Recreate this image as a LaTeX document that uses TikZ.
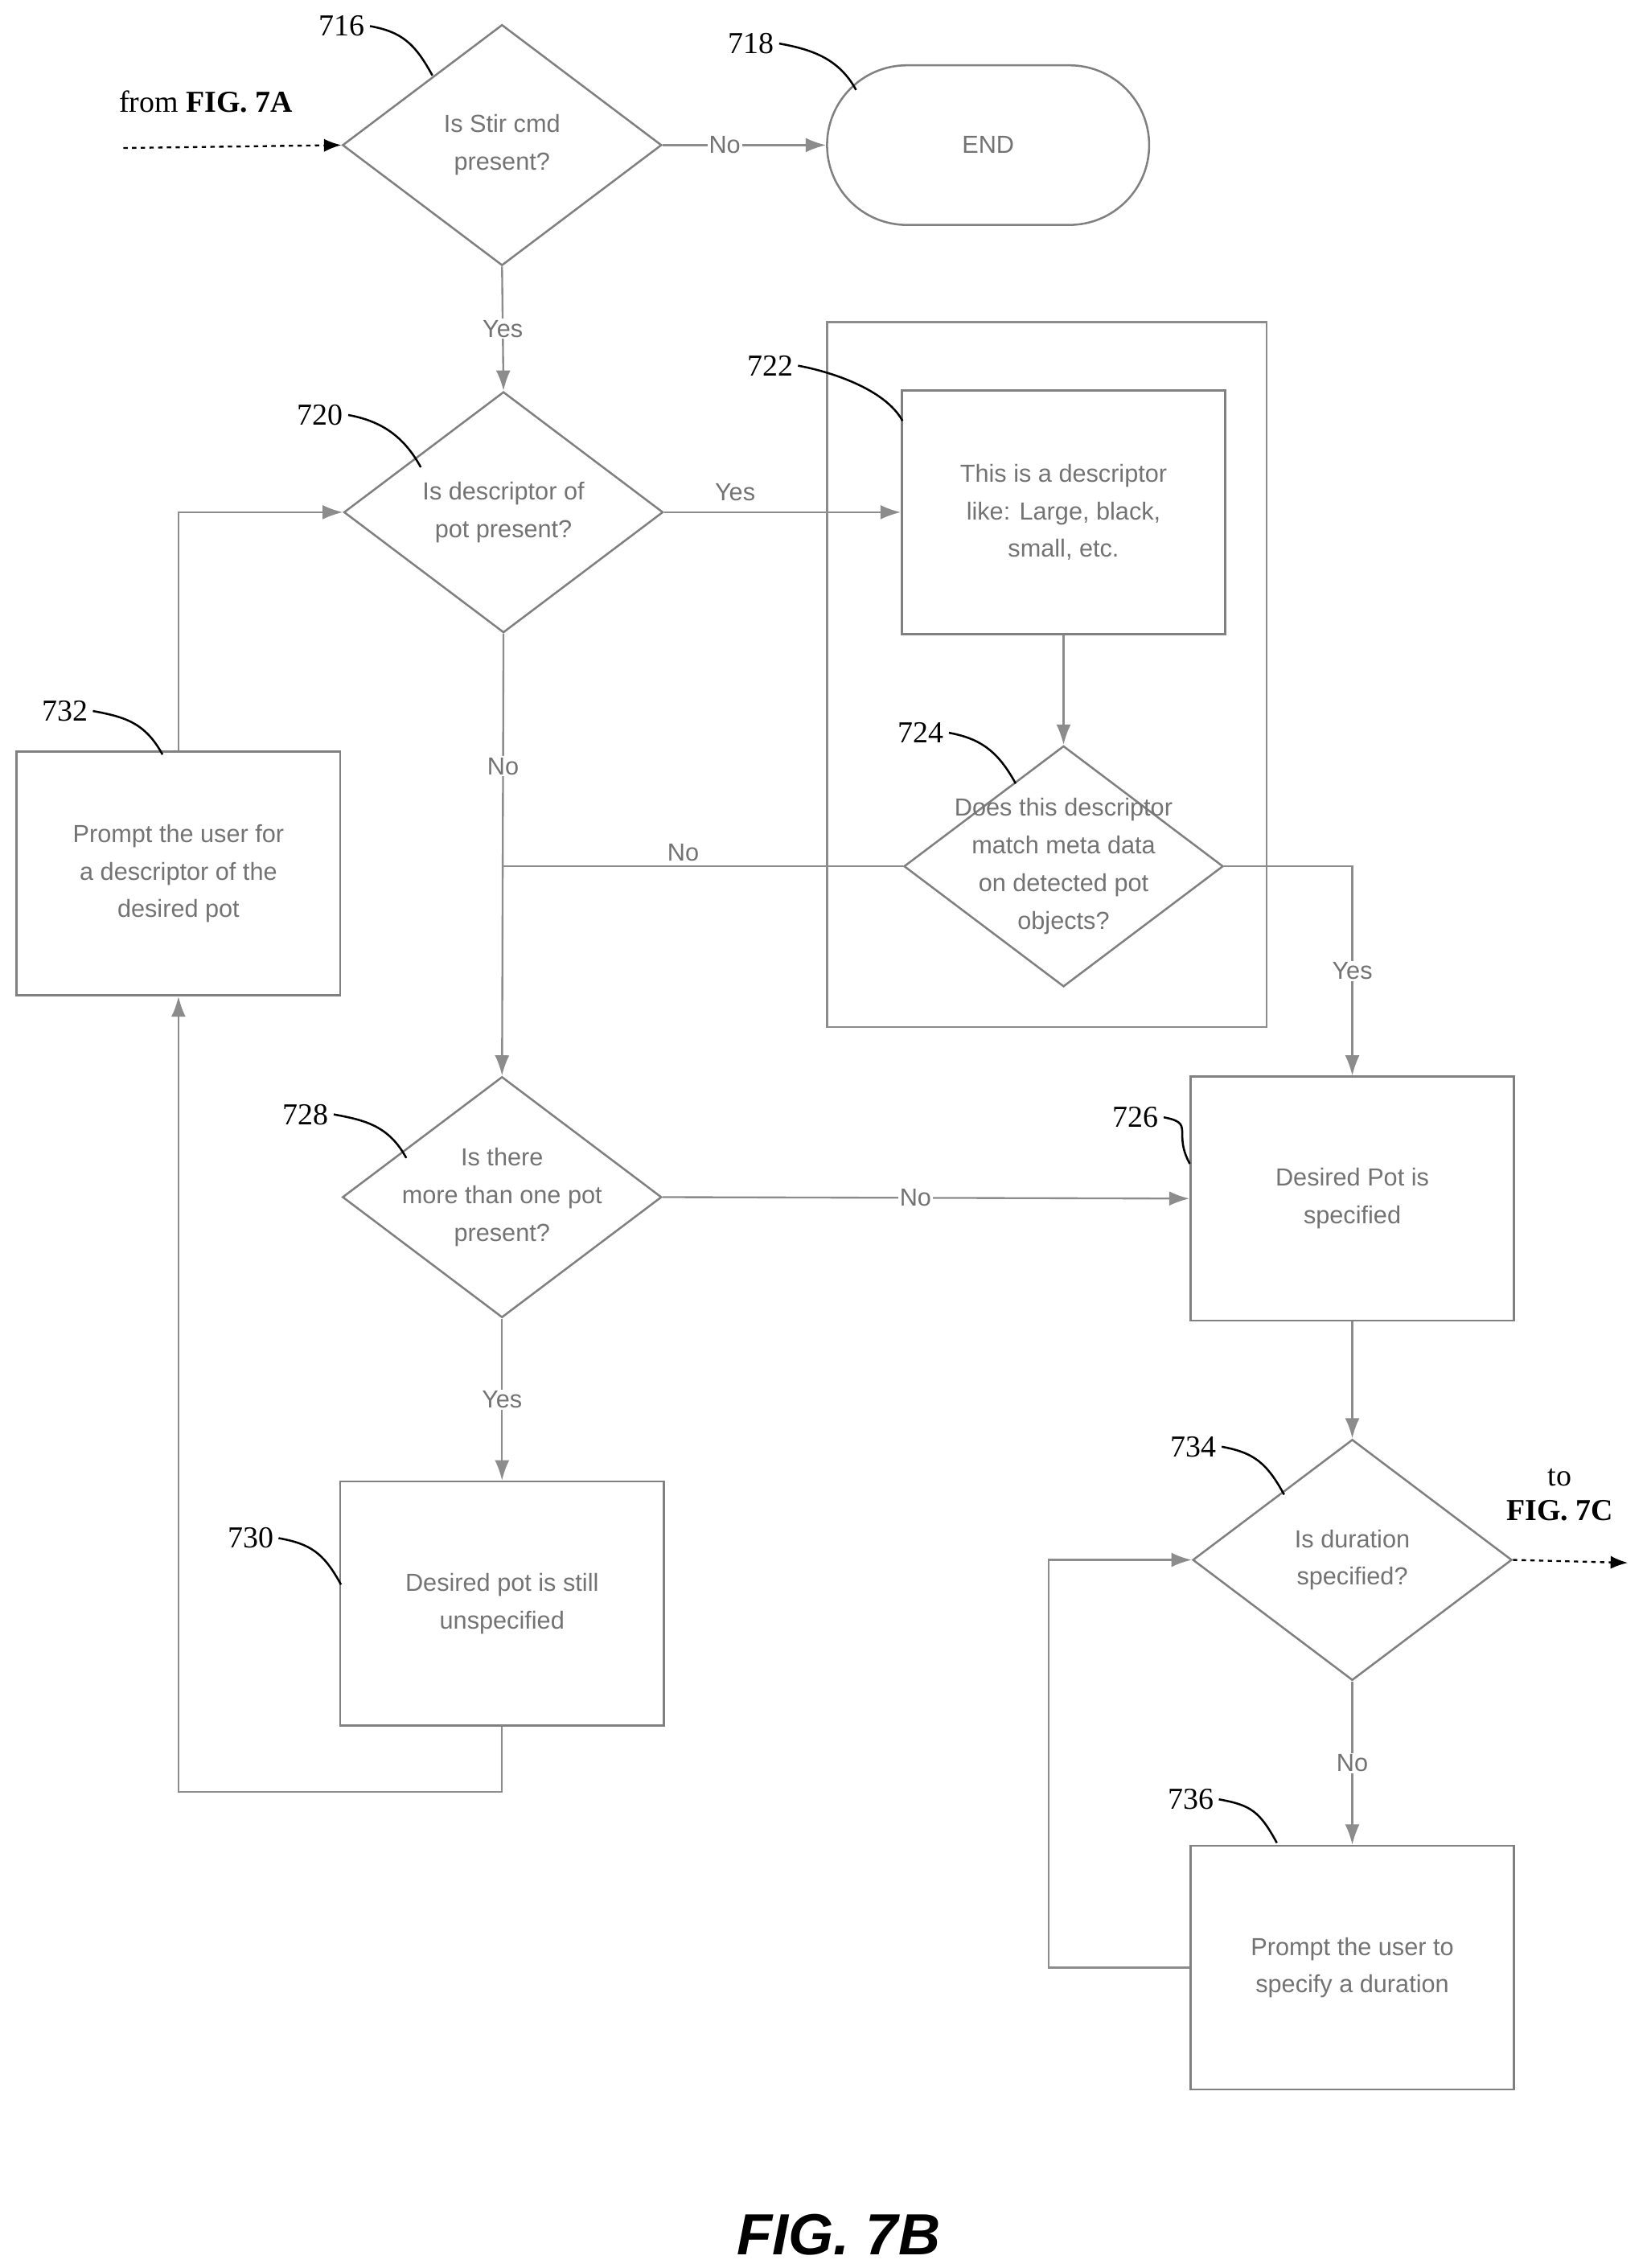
\documentclass[tikz,border=0pt]{standalone}
\usepackage{fontspec}
\setmainfont{Liberation Serif}
\setsansfont{Liberation Sans}
\usetikzlibrary{shapes.geometric,arrows.meta,positioning}
\tikzset{
  flow/.style={draw=black!45, line width=1.3pt},
  arr/.style={flow, -{Latex[length=14pt,width=10pt]}},
  dia/.style={draw=black!50, line width=1.4pt, diamond, minimum width=220pt, minimum height=166pt, inner sep=0pt},
  box/.style={draw=black!50, line width=1.4pt, minimum width=223pt, minimum height=168pt, inner sep=0pt},
  txt/.style={font=\sffamily\fontsize{17}{26}\selectfont, text=black!55, align=center},
  lbl/.style={font=\sffamily\fontsize{17}{20}\selectfont, text=black!55, fill=white, inner sep=1pt},
  num/.style={font=\fontsize{21}{24}\selectfont},
  lead/.style={draw=black, line width=1.4pt}
}
\newcommand{\refnum}[4]{%
  \node[num, anchor=east] (n#1) at (#2,#3) {#1};
  \draw[lead] (n#1.east) .. controls +(22,4) and +(-12,-22) .. (#4);
}
\begin{document}
\begin{tikzpicture}[x=1pt,y=-1pt]
\useasboundingbox (0,0) rectangle (1135,1563);

% outer frame around 722/724
\draw[draw=black!45, line width=1.2pt] (570,222) rectangle (873,708);

% shapes
\node[dia] (d716) at (346,100) {};
\node[txt] at (d716) {Is Stir cmd\\present?};
\node[draw=black!50, line width=1.4pt, rounded corners=55pt, minimum width=222pt, minimum height=110pt] (n718) at (681,100) {};
\node[txt] at (n718) {END};
\node[dia] (d720) at (347,353) {};
\node[txt] at (d720) {Is descriptor of\\pot present?};
\node[box] (b722) at (733,353) {};
\node[txt] at (b722) {This is a descriptor\\like: Large, black,\\small, etc.};
\node[dia] (d724) at (733,597) {};
\node[txt] at (d724) {Does this descriptor\\match meta data\\on detected pot\\objects?};
\node[box] (b732) at (123,602) {};
\node[txt] at (b732) {Prompt the user for\\a descriptor of the\\desired pot};
\node[dia] (d728) at (346,825) {};
\node[txt] at (d728) {Is there\\more than one pot\\present?};
\node[box] (b726) at (932,826) {};
\node[txt] at (b726) {Desired Pot is\\specified};
\node[box] (b730) at (346,1105) {};
\node[txt] at (b730) {Desired pot is still\\unspecified};
\node[dia] (d734) at (932,1075) {};
\node[txt] at (d734) {Is duration\\specified?};
\node[box] (b736) at (932,1356) {};
\node[txt] at (b736) {Prompt the user to\\specify a duration};

% off-page
\node[font=\fontsize{21}{24}\selectfont] (from) at (142,70) {from \textbf{FIG. 7A}};
\coordinate (fromS) at (85,102);
\draw[dashed, line width=1.3pt, -{Latex[length=12pt,width=9pt]}] (fromS) -- (d716.west);
\node[font=\fontsize{21}{24}\selectfont, align=center] (to) at (1075,1030) {to\\\textbf{FIG. 7C}};
\coordinate (toE) at (1122,1077);
\draw[dashed, line width=1.3pt, -{Latex[length=12pt,width=9pt]}] (d734.east) -- (toE);
\node[font=\sffamily\bfseries\itshape\fontsize{40}{44}\selectfont] (fig) at (578,1540) {FIG. 7B};

% connectors
\draw[arr] (d716.south) -- node[lbl, pos=0.5] {Yes} (d720.north);
\draw[arr] (d716.east) -- node[lbl, pos=0.38] {No} (n718.west);
\draw[arr] (d720.east) -- node[lbl, above=6pt, pos=0.3] {Yes} (b722.west);
\draw[arr] (d720.south) -- node[lbl, pos=0.3] {No} (d728.north);
\draw[arr] (b722.south) -- (d724.north);
\draw[flow] (d724.west) -- node[lbl, above=2pt, pos=0.55] {No} (d720.south |- d724.west);
\draw[arr] (d724.east) -| node[lbl, pos=0.75] {Yes} (b726.north);
\draw[arr] (d728.east) -- node[lbl, pos=0.48] {No} (b726.west);
\draw[arr] (d728.south) -- node[lbl, pos=0.5] {Yes} (b730.north);
\draw[arr] (b730.south) -- ++(0,45) -| (b732.south);
\draw[arr] (b732.north) |- (d720.west);
\draw[arr] (b726.south) -- (d734.north);
\draw[arr] (d734.south) -- node[lbl, pos=0.5] {No} (b736.north);
\draw[arr] (b736.west) -- ++(-97,0) |- (d734.west);

% reference numerals
\refnum{716}{255}{18}{298,52}
\refnum{718}{537}{30}{590,62}
\refnum{720}{240}{286}{290,322}
\refnum{722}{550}{252}{622,290}
\refnum{724}{654}{505}{700,540}
\refnum{732}{64}{490}{112,520}
\refnum{728}{230}{768}{280,798}
\refnum{726}{802}{770}{820,802}
\refnum{730}{192}{1060}{235,1092}
\refnum{734}{842}{997}{885,1030}
\refnum{736}{840}{1240}{880,1270}
\end{tikzpicture}
\end{document}
